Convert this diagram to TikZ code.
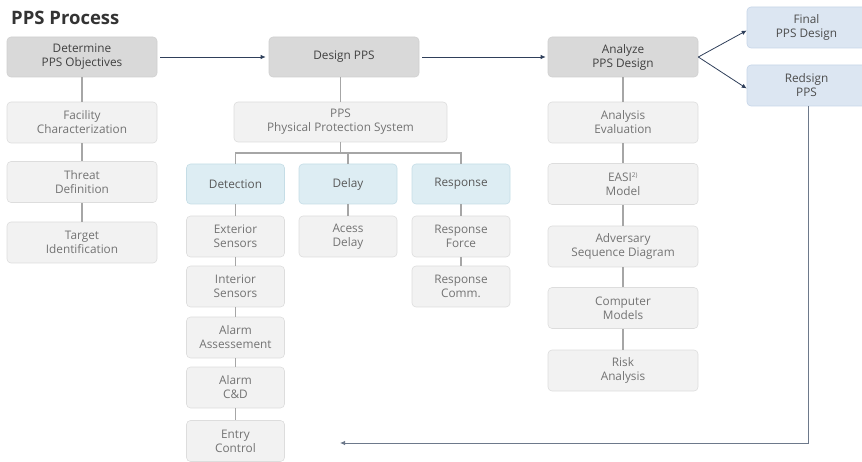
\documentclass[tikz,border=0pt]{standalone}
\usepackage{fontspec}
\setmainfont{Open Sans}
\usetikzlibrary{arrows.meta}
\definecolor{darkfill}{HTML}{D9D9D9}
\definecolor{darkline}{HTML}{D0D0D0}
\definecolor{lightfill}{HTML}{F2F2F2}
\definecolor{lightline}{HTML}{DDDDDD}
\definecolor{cyanfill}{HTML}{DDEDF3}
\definecolor{cyanline}{HTML}{C5DDE6}
\definecolor{bluefill}{HTML}{DCE6F2}
\definecolor{blueline}{HTML}{C6D5E8}
\definecolor{navy}{HTML}{2F3F5A}
\definecolor{conn}{HTML}{A6A6A6}
\tikzset{
  base/.style={rounded corners=4pt, align=center, inner sep=1pt, line width=0.6pt,
    font=\fontsize{11.8}{14}\selectfont},
  mainbox/.style={base, fill=darkfill, draw=darkline, text=black!75, minimum width=150pt, minimum height=40pt},
  subbox/.style={base, fill=lightfill, draw=lightline, text=black!55, minimum height=41pt},
  catbox/.style={base, fill=cyanfill, draw=cyanline, text=black!65, minimum width=98pt, minimum height=40pt},
  outbox/.style={base, fill=bluefill, draw=blueline, text=black!70, minimum width=119pt, minimum height=41pt},
  link/.style={conn, line width=1.2pt},
  flow/.style={navy, line width=0.8pt, -{Latex[length=5pt,width=4.5pt]}},
}
\begin{document}
\begin{tikzpicture}[x=1pt,y=-1pt]
\useasboundingbox (0,0) rectangle (862,462);
\node[anchor=west, font=\fontsize{18.5}{22}\selectfont\bfseries, text=black!80, inner sep=0pt] (title) at (11,18) {PPS Process};

% top row
\node[mainbox] (det) at (82,57) {Determine\\PPS Objectives};
\node[mainbox] (des) at (344,57) {Design PPS};
\node[mainbox] (ana) at (623,57) {Analyze\\PPS Design};
\node[outbox] (fin) at (806.5,27.5) {Final\\PPS Design};
\node[outbox] (red) at (806.5,85.5) {Redsign\\PPS};

% left column
\node[subbox, minimum width=150pt] (fac) at (82,122.5) {Facility\\Characterization};
\node[subbox, minimum width=150pt] (thr) at (82,182) {Threat\\Definition};
\node[subbox, minimum width=150pt] (tar) at (82,242.5) {Target\\Identification};

% design column
\node[subbox, minimum width=213pt, minimum height=40pt] (pps) at (340.5,122) {PPS\\Physical Protection System};
\node[catbox] (dtc) at (235.5,184) {Detection};
\node[catbox] (dly) at (348,184) {Delay};
\node[catbox] (rsp) at (461,184) {Response};

\node[subbox, minimum width=98pt] (ext) at (235.5,236.5) {Exterior\\Sensors};
\node[subbox, minimum width=98pt] (int) at (235.5,286.5) {Interior\\Sensors};
\node[subbox, minimum width=98pt] (ala) at (235.5,337.5) {Alarm\\Assessement};
\node[subbox, minimum width=98pt] (acd) at (235.5,387.5) {Alarm\\C\&D};
\node[subbox, minimum width=98pt] (ent) at (235.5,441) {Entry\\Control};

\node[subbox, minimum width=98pt] (acc) at (348,236.5) {Acess\\Delay};
\node[subbox, minimum width=98pt] (rfo) at (461,236.5) {Response\\Force};
\node[subbox, minimum width=98pt] (rco) at (461,286.5) {Response\\Comm.};

% analyze column
\node[subbox, minimum width=150pt] (aev) at (623,122.5) {Analysis\\Evaluation};
\node[subbox, minimum width=150pt] (eas) at (623,184) {EASI\textsuperscript{\fontsize{6.5}{6.5}\selectfont 2)}\\Model};
\node[subbox, minimum width=150pt] (adv) at (623,246.5) {Adversary\\Sequence Diagram};
\node[subbox, minimum width=150pt] (com) at (623,308) {Computer\\Models};
\node[subbox, minimum width=150pt] (rsk) at (623,370.5) {Risk\\Analysis};

% gray connectors
\draw[link] (det) -- (fac) (fac) -- (thr) (thr) -- (tar);
\draw[link] (des.south -| pps.north) -- (pps.north);
\coordinate (br) at (340.5,153);
\draw[link] (pps.south) -- (br);
\draw[link] (dtc.north) -- (dtc.north |- br) -- (rsp.north |- br) -- (rsp.north);
\draw[link] (dly.north |- br) -- (dly.north);
\draw[link] (dtc) -- (ext) (ext) -- (int) (int) -- (ala) (ala) -- (acd) (acd) -- (ent);
\draw[link] (dly) -- (acc);
\draw[link] (rsp) -- (rfo) (rfo) -- (rco);
\draw[link] (ana) -- (aev) (aev) -- (eas) (eas) -- (adv) (adv) -- (com) (com) -- (rsk);

% flow arrows
\draw[flow] ([xshift=3pt]det.east) -- ([xshift=-3pt]des.west);
\draw[flow] ([xshift=3pt]des.east) -- ([xshift=-2pt]ana.west);
\draw[flow] (ana.east) -- ([yshift=-3pt]fin.west);
\draw[flow] (ana.east) -- ([yshift=-3pt]red.west);
\coordinate (back) at (340,443);
\draw[flow, draw=navy!70] ([xshift=2pt]red.south) -- ([xshift=2pt]red.south |- back) -- (back);
\end{tikzpicture}
\end{document}
